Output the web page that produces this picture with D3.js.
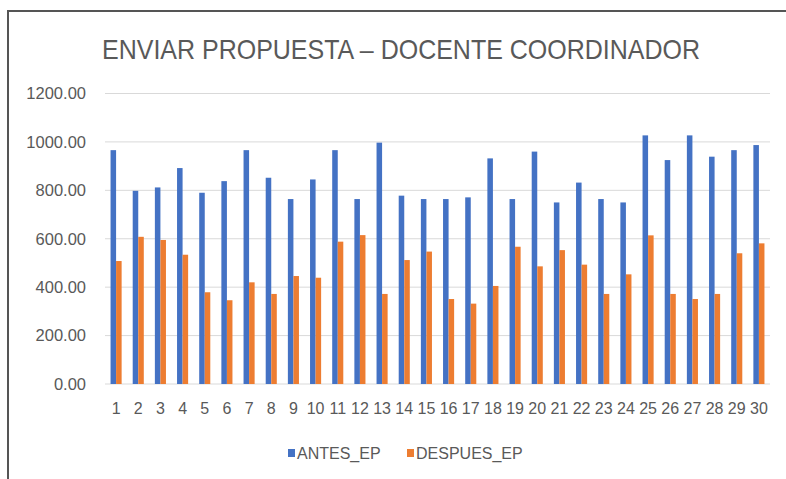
<!DOCTYPE html>
<html>
<head>
<meta charset="utf-8">
<script src="https://cdn.jsdelivr.net/npm/d3@7"></script>
<style>
  body { margin: 0; background: #fff; }
  text { font-family: "Liberation Sans", Arial, sans-serif; fill: #595959; }
</style>
</head>
<body>
<div id="chart"></div>
<script>
const categories = d3.range(1, 31).map(String);
const antes = [966, 798, 812, 892, 790, 838, 966, 852, 764, 845,
  966, 764, 997, 778, 764, 764, 771, 932, 764, 960,
  750, 832, 764, 750, 1027, 925, 1027, 939, 966, 987];
const despues = [508, 608, 595, 534, 379, 346, 420, 372, 446, 439,
  588, 615, 372, 512, 547, 351, 332, 405, 567, 486,
  553, 493, 372, 453, 614, 372, 351, 372, 540, 581];
const yTicks = [0, 200, 400, 600, 800, 1000, 1200];
const seriesNames = ['ANTES_EP', 'DESPUES_EP'];
const colors = ['#4472C4', '#ED7D31'];

const width = 786, height = 479;
const svg = d3.select('#chart').append('svg')
  .attr('width', width).attr('height', height);

// outer frame (only left and top visible in the crop)
svg.append('rect')
  .attr('x', 8).attr('y', 11)
  .attr('width', 900).attr('height', 600)
  .attr('fill', 'none').attr('stroke', '#555').attr('stroke-width', 2);

const x = d3.scaleBand().domain(categories).range([105, 770])
  .paddingInner(0.5).paddingOuter(0.25);
const xs = d3.scaleBand().domain(seriesNames).range([0, x.bandwidth()]);
const y = d3.scaleLinear().domain([0, 1200]).range([384, 93.5]);

// gridlines
svg.append('g').selectAll('line')
  .data(yTicks)
  .join('line')
  .attr('x1', 105).attr('x2', 770)
  .attr('y1', d => y(d)).attr('y2', d => y(d))
  .attr('stroke', '#d9d9d9').attr('stroke-width', 1);

// y axis labels
const yAxis = svg.append('g')
  .attr('transform', 'translate(86,0)')
  .call(d3.axisLeft(y).tickValues(yTicks).tickFormat(d3.format('.2f')).tickSize(0).tickPadding(0));
yAxis.select('.domain').remove();
yAxis.selectAll('text')
  .attr('font-size', 16.5).attr('fill', '#595959')
  .style('font-family', '"Liberation Sans", Arial, sans-serif');

// bars
const rows = categories.map((c, i) => ({ c, vals: [antes[i], despues[i]] }));
const groups = svg.append('g').selectAll('g')
  .data(rows)
  .join('g')
  .attr('transform', d => `translate(${x(d.c)},0)`);
groups.selectAll('rect')
  .data(d => d.vals.map((v, k) => ({ k, v })))
  .join('rect')
  .attr('x', d => xs(seriesNames[d.k]))
  .attr('width', xs.bandwidth())
  .attr('y', d => y(d.v))
  .attr('height', d => y(0) - y(d.v))
  .attr('fill', d => colors[d.k]);

// x axis labels
const xAxis = svg.append('g')
  .attr('transform', 'translate(0,384)')
  .call(d3.axisBottom(x).tickSize(0).tickPadding(19));
xAxis.select('.domain').remove();
xAxis.selectAll('text')
  .attr('font-size', 16).attr('fill', '#595959')
  .style('font-family', '"Liberation Sans", Arial, sans-serif');

// title
svg.append('text')
  .attr('x', 102).attr('y', 59)
  .attr('font-size', 28.5)
  .attr('textLength', 598).attr('lengthAdjust', 'spacingAndGlyphs')
  .text('ENVIAR PROPUESTA – DOCENTE COORDINADOR');

// legend
const legendX = [288, 407];
const legend = svg.append('g').selectAll('g')
  .data(seriesNames)
  .join('g')
  .attr('transform', (d, i) => `translate(${legendX[i]},449)`);
legend.append('rect')
  .attr('width', 7).attr('height', 8)
  .attr('fill', (d, i) => colors[i]);
legend.append('text')
  .attr('x', 9).attr('y', 9.5)
  .attr('font-size', 16)
  .text(d => d);
</script>
</body>
</html>
